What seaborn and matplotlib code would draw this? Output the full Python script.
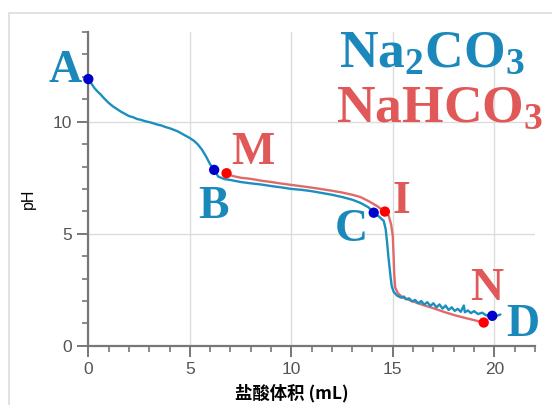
import numpy as np
import pandas as pd
import seaborn as sns
import matplotlib.pyplot as plt
from matplotlib.patches import Rectangle
from matplotlib.ticker import MultipleLocator

# Na2CO3 titration curve (blue)
na2co3_x = [0, 0.15, 0.3, 0.45, 0.6, 0.8, 1.0, 1.2, 1.4, 1.6, 1.8, 2.0, 2.2, 2.4, 2.6, 2.8,
            3.0, 3.2, 3.4, 3.6, 3.8, 4.0, 4.2, 4.4, 4.6, 4.8, 5.0, 5.2, 5.4, 5.6, 5.8, 6.0, 6.2,
            6.4, 6.7, 7.0, 7.5, 8.0, 8.5, 9.0, 9.5, 10.0, 10.5, 11.0, 11.5, 12.0, 12.5, 13.0,
            13.4, 13.8, 14.06, 14.3, 14.55, 14.65, 14.72, 14.78, 14.84, 14.9, 14.95, 15.05, 15.2,
            15.4, 15.55, 15.65, 15.8, 15.95, 16.1, 16.25, 16.4, 16.55, 16.7, 16.85, 17.0, 17.15,
            17.3, 17.45, 17.6, 17.75, 17.9, 18.05, 18.2, 18.35, 18.5, 18.55, 18.7, 18.85, 19.0,
            19.2, 19.4, 19.6, 19.8, 19.95, 20.1, 20.3]
na2co3_y = [11.9, 11.7, 11.5, 11.35, 11.22, 11.02, 10.84, 10.69, 10.57, 10.45, 10.35, 10.25,
            10.2, 10.12, 10.08, 10.02, 9.98, 9.93, 9.87, 9.83, 9.76, 9.71, 9.64, 9.57, 9.47,
            9.37, 9.27, 9.15, 8.98, 8.75, 8.45, 8.1, 7.85,
            7.55, 7.44, 7.4, 7.31, 7.25, 7.2, 7.13, 7.07, 7.0, 6.96, 6.9, 6.82, 6.74, 6.64, 6.52,
            6.38, 6.18, 5.94, 5.78, 5.58, 5.2, 4.6, 4.0, 3.5, 3.0, 2.65, 2.4, 2.25,
            2.15, 2.2, 2.08, 2.12, 1.98, 2.05, 1.9, 2.0, 1.84, 1.95, 1.78, 1.9, 1.72,
            1.85, 1.66, 1.8, 1.6, 1.72, 1.56, 1.65, 1.52, 1.8, 1.5, 1.58, 1.46, 1.55,
            1.42, 1.48, 1.36, 1.38, 1.34, 1.33, 1.4]

# NaHCO3 titration curve (red)
nahco3_x = [6.81, 7.1, 7.5, 8.0, 8.5, 9.0, 9.5, 10.0, 10.5, 11.0, 11.5, 12.0, 12.5, 13.0,
            13.4, 13.8, 14.2, 14.61, 14.8, 14.92, 15.0, 15.04, 15.07, 15.12, 15.25, 15.5,
            16.0, 16.5, 17.0, 17.5, 18.0, 18.5, 19.0, 19.48]
nahco3_y = [7.7, 7.58, 7.5, 7.45, 7.37, 7.31, 7.24, 7.18, 7.12, 7.06, 6.99, 6.92, 6.84, 6.74,
            6.64, 6.46, 6.25, 5.99, 5.8, 5.4, 4.9, 4.0, 3.2, 2.6, 2.35, 2.15,
            1.98, 1.82, 1.68, 1.52, 1.38, 1.26, 1.15, 1.04]

# labelled points
blue_pts = ['A', 'B', 'C', 'D']
blue_px = [0, 6.2, 14.06, 19.9]
blue_py = [11.9, 7.85, 5.94, 1.34]
red_pts = ['M', 'I', 'N']
red_px = [6.81, 14.61, 19.48]
red_py = [7.7, 5.99, 1.04]

BLUE_LINE = '#1a8fc0'
RED_LINE = '#e06a6a'
BLUE_TXT = '#1a88bb'
RED_TXT = '#e05858'

sns.set_style('white')
plt.rcParams['font.family'] = ['Liberation Sans', 'DejaVu Sans']
plt.rcParams['mathtext.fontset'] = 'custom'
plt.rcParams['mathtext.rm'] = 'Liberation Serif:bold'
plt.rcParams['mathtext.it'] = 'Liberation Serif:bold'

fig = plt.figure(figsize=(5.52, 4.05), dpi=100)
ax = fig.add_axes([0.160, 0.146, 0.809, 0.775])

df_b = pd.DataFrame({'x': na2co3_x, 'y': na2co3_y})
df_r = pd.DataFrame({'x': nahco3_x, 'y': nahco3_y})
sns.lineplot(data=df_r, x='x', y='y', ax=ax, color=RED_LINE, lw=1.7, sort=False, zorder=3)
sns.lineplot(data=df_b, x='x', y='y', ax=ax, color=BLUE_LINE, lw=1.7, sort=False, zorder=3)

sns.scatterplot(x=blue_px, y=blue_py, ax=ax, color='#0000cc', s=55, edgecolor='none',
                zorder=5, clip_on=False)
sns.scatterplot(x=red_px, y=red_py, ax=ax, color='#ff0000', s=55, edgecolor='none',
                zorder=5, clip_on=False)

ax.set_xlim(0, 22)
ax.set_ylim(0, 14)
ax.xaxis.set_major_locator(MultipleLocator(5))
ax.xaxis.set_minor_locator(MultipleLocator(1))
ax.yaxis.set_major_locator(MultipleLocator(5))
ax.yaxis.set_minor_locator(MultipleLocator(1))
ax.grid(True, which='major', color='#dcdcdc', lw=1)
ax.set_axisbelow(True)

for s in ['top', 'right']:
    ax.spines[s].set_visible(False)
for s in ['left', 'bottom']:
    ax.spines[s].set_color('#777777')
    ax.spines[s].set_linewidth(1.6)

ax.tick_params(which='major', direction='out', length=8, width=1.4, color='#777777',
               labelsize=12.5, labelcolor='#555555', left=True, bottom=True)
ax.tick_params(which='minor', direction='out', length=4.5, width=1.2, color='#777777',
               left=True, bottom=True)

ax.set_ylabel('pH', fontsize=11.5, color='black')
ax.yaxis.set_label_coords(-0.118, 0.47)
ax.set_xlabel('盐酸体积 (mL)', fontsize=12.5, fontweight='bold', color='black',
              family=['Noto Sans CJK SC', 'DejaVu Sans'])
ax.xaxis.set_label_coords(0.456, -0.122)

# point letters
lab_kw = dict(family='Liberation Serif', fontweight='bold', fontsize=33, ha='center',
              va='center', clip_on=False, zorder=6)
ax.text(-1.15, 12.25, 'A', color=BLUE_TXT, **lab_kw)
ax.text(6.18, 6.2, 'B', color=BLUE_TXT, **lab_kw)
ax.text(12.95, 5.15, 'C', color=BLUE_TXT, **lab_kw)
ax.text(21.4, 0.95, 'D', color=BLUE_TXT, **lab_kw)
ax.text(8.1, 8.62, 'M', color=RED_TXT, **lab_kw)
ax.text(15.4, 6.42, 'I', color=RED_TXT, **lab_kw)
ax.text(19.62, 2.55, 'N', color=RED_TXT, **lab_kw)

leg_kw = dict(family='Liberation Serif', fontweight='bold', fontsize=38.5, ha='center',
              va='baseline', clip_on=False, zorder=6)
ax.text(16.92, 12.44, 'Na$_2$CO$_3$', color=BLUE_TXT, **leg_kw)
ax.text(17.31, 9.99, 'NaHCO$_3$', color=RED_TXT, **leg_kw)

fig.add_artist(Rectangle((0.0165, -0.02), 1.1, 0.988, transform=fig.transFigure,
                         fill=False, edgecolor='#dddddd', lw=1.2))

fig.savefig('out.png', dpi=100)
